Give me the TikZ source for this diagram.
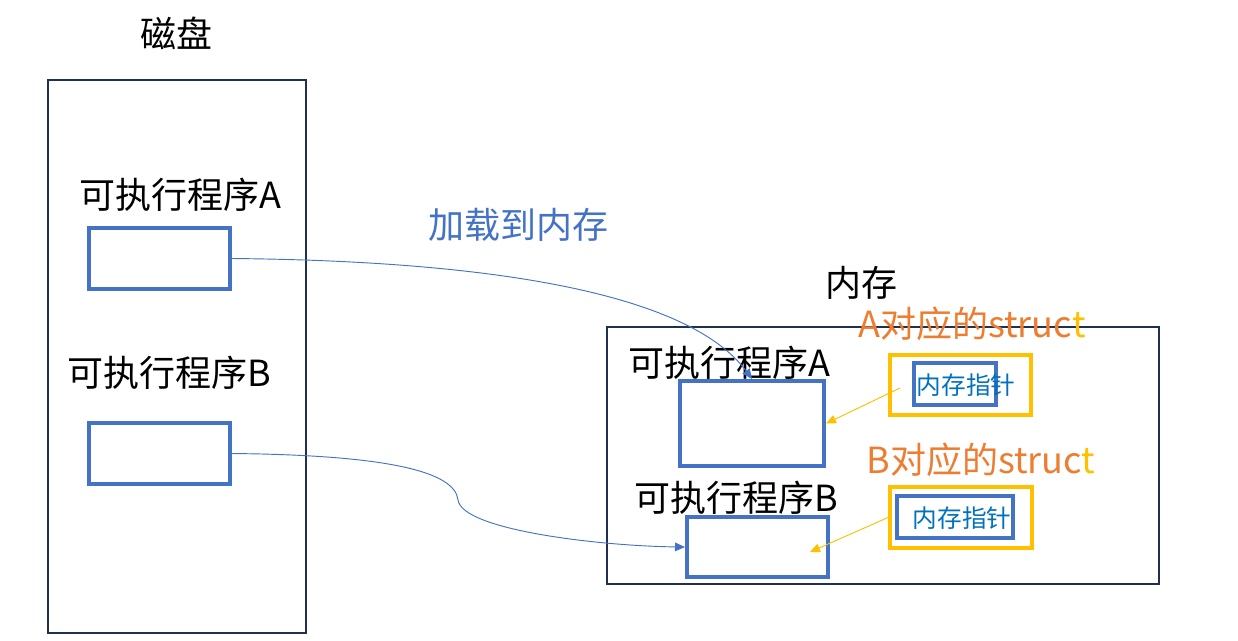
\documentclass[tikz,border=0pt]{standalone}
\usepackage{fontspec}
\setmainfont{Noto Sans CJK SC}
\usetikzlibrary{arrows.meta}
\definecolor{navy}{HTML}{1F3050}
\definecolor{mblue}{HTML}{4472C4}
\definecolor{tblue}{HTML}{0070C0}
\definecolor{morange}{HTML}{ED7D31}
\definecolor{mgold}{HTML}{FFC000}
\tikzset{
  lbl/.style={inner sep=0pt, font=\fontsize{27}{30}\selectfont},
  small/.style={inner sep=0pt, font=\fontsize{18.5}{20}\selectfont, text=tblue},
  outerbox/.style={draw=navy, line width=1.5pt, inner sep=0pt},
  progbox/.style={draw=mblue, line width=3pt, inner sep=0pt},
  structbox/.style={draw=mgold, line width=3pt, inner sep=0pt},
  load/.style={draw=mblue, line width=0.7pt, -{Triangle[length=7.5pt,width=6.5pt]}},
  ptr/.style={draw=mgold, line width=0.7pt, -{Triangle[length=7.5pt,width=6.5pt]}},
}
\begin{document}
\begin{tikzpicture}[x=0.75pt,y=-0.75pt]
\useasboundingbox (0,0) rectangle (1238,640);
% disk
\node[lbl] (disktitle) at (176,33) {磁盘};
\node[outerbox, minimum width=258*0.75pt, minimum height=553*0.75pt] (disk) at (177,356.5) {};
\node[lbl] (labA) at (180,195) {可执行程序A};
\node[progbox, minimum width=141*0.75pt, minimum height=61*0.75pt] (boxA) at (159.5,258.5) {};
\node[lbl] (labB) at (169,373) {可执行程序B};
\node[progbox, minimum width=141*0.75pt, minimum height=61*0.75pt] (boxB) at (159.5,453.5) {};
% load label
\node[lbl, text=mblue] (loadlab) at (518,225) {加载到内存};
% memory
\node[lbl] (memtitle) at (861,283) {内存};
\node[outerbox, minimum width=552*0.75pt, minimum height=257*0.75pt] (mem) at (883,455.5) {};
\node[lbl] (mlabA) at (729,363) {可执行程序A};
\node[progbox, minimum width=144*0.75pt, minimum height=85*0.75pt] (memA) at (752,423.5) {};
\node[lbl] (mlabB) at (736,498) {可执行程序B};
\node[progbox, minimum width=141*0.75pt, minimum height=60*0.75pt] (memB) at (757.5,547) {};
% structs
\node[lbl, text=morange] (sA) at (972,324) {A对应的struc\textcolor{mgold}{t}};
\node[structbox, minimum width=141*0.75pt, minimum height=60*0.75pt] (structA) at (960.5,385) {};
\node[progbox, minimum width=82*0.75pt, minimum height=42*0.75pt] (ptrA) at (955,384) {};
\node[small] (ptrAtxt) at (966,385) {内存指针};
\node[lbl, text=morange] (sB) at (981,460) {B对应的struc\textcolor{mgold}{t}};
\node[structbox, minimum width=142*0.75pt, minimum height=61*0.75pt] (structB) at (961,517.5) {};
\node[progbox, minimum width=116*0.75pt, minimum height=42*0.75pt] (ptrB) at (955,517) {};
\node[small] (ptrBtxt) at (962,518) {内存指针};
% connectors
\coordinate (sAstart) at (900,388);
\coordinate (bEnd) at (810,552);
\coordinate (bMid) at (458,500);
\draw[load] (boxA.east) .. controls (500,261) and (690,295) .. (memA.north);
\draw[draw=mblue, line width=0.7pt] (boxB.east) .. controls (380,455) and (455,470) .. (bMid);
\draw[load] (bMid) .. controls (462,530) and (600,546) .. (memB.west);
\draw[ptr] (sAstart) -- (memA.east);
\draw[ptr] (structB.west) -- (bEnd);
\end{tikzpicture}
\end{document}
